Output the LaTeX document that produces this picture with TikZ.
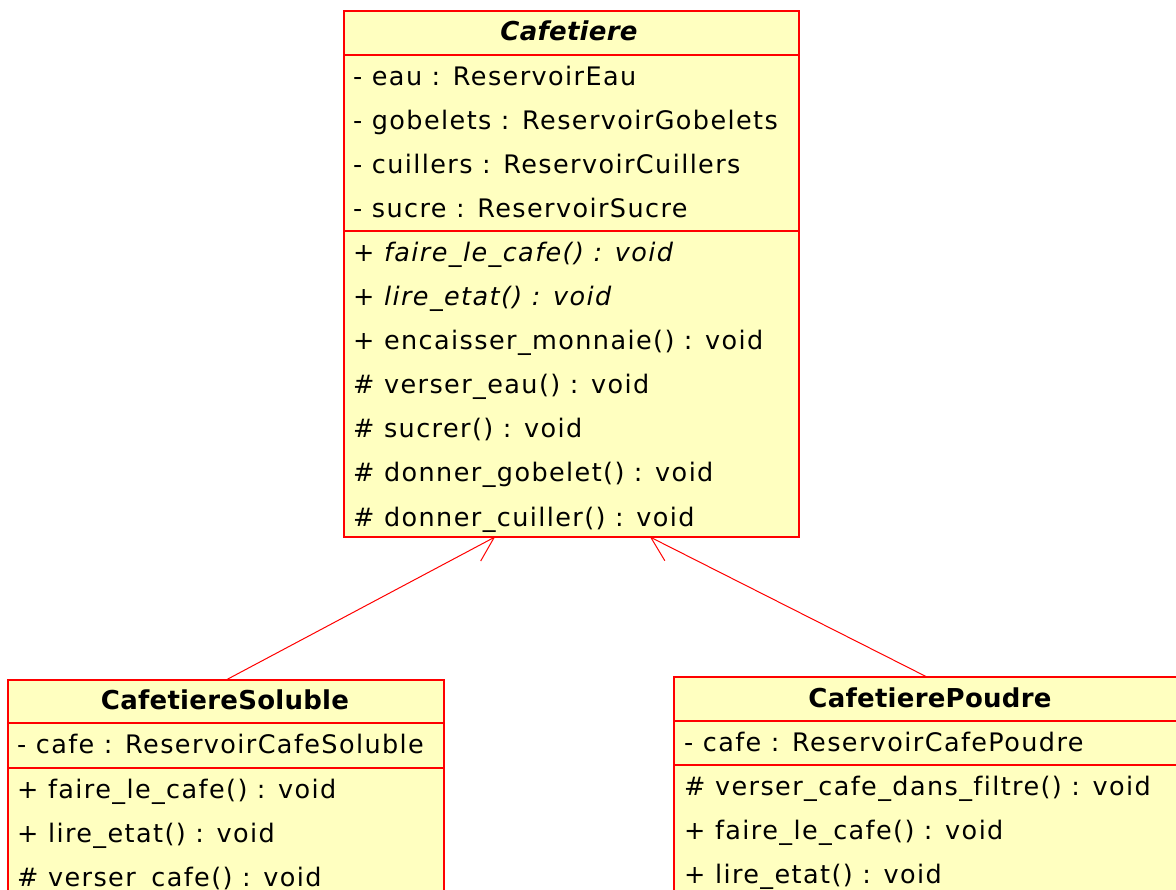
\documentclass[tikz,border=0pt]{standalone}
\usepackage{fontspec}
\setmainfont{DejaVu Sans}[LetterSpace=5.5, Ligatures=NoCommon]
\newfontfamily\headfont{DejaVu Sans}[LetterSpace=1, Ligatures=NoCommon]
\usetikzlibrary{arrows.meta,backgrounds}
\definecolor{umlfill}{HTML}{FFFFC0}
\definecolor{umlred}{HTML}{FF0000}
\begin{document}
\begin{tikzpicture}[x=1pt,y=-1pt,
  classbox/.style={draw=umlred, fill=umlfill, line width=1.5pt, inner sep=0pt, outer sep=0pt},
  sep/.style={draw=umlred, line width=1.5pt},
  row/.style={anchor=base west, inner sep=0pt, font=\fontsize{25.5}{30}\selectfont},
  irow/.style={row, font=\fontsize{25.5}{30}\selectfont\itshape},
  head/.style={anchor=base, inner sep=0pt, font=\headfont\fontsize{26}{30}\selectfont\bfseries},
  inherit/.style={draw=umlred, line width=1pt, -{Straight Barb[length=23pt,width=29pt]}}]
\useasboundingbox (0,0) rectangle (1176,890);
\begin{scope}
\clip (0,0) rectangle (1176,890);
% Cafetiere
\node[classbox, minimum width=455pt, minimum height=526pt] (caf) at (571.5,274) {};
\draw[sep] (344,55) -- (799,55);
\draw[sep] (344,231) -- (799,231);
\node[head, font=\headfont\fontsize{26}{30}\selectfont\bfseries\itshape] (cafname) at (569,41) {Cafetiere};
\node[row] (ca1) at (353,86) {- eau : ReservoirEau};
\node[row] (ca2) at (353,130) {- gobelets : ReservoirGobelets};
\node[row] (ca3) at (353,174) {- cuillers : ReservoirCuillers};
\node[row] (ca4) at (353,218) {- sucre : ReservoirSucre};
\node[irow] (cm1) at (353,262) {+ faire\_le\_cafe() : void};
\node[irow] (cm2) at (353,306) {+ lire\_etat() : void};
\node[row] (cm3) at (353,350) {+ encaisser\_monnaie() : void};
\node[row] (cm4) at (353,394) {\# verser\_eau() : void};
\node[row] (cm5) at (353,438) {\# sucrer() : void};
\node[row] (cm6) at (353,482) {\# donner\_gobelet() : void};
\node[row] (cm7) at (353,526) {\# donner\_cuiller() : void};
% CafetiereSoluble
\node[classbox, minimum width=436pt, minimum height=250pt] (sol) at (226,805) {};
\draw[sep] (8,723) -- (444,723);
\draw[sep] (8,768) -- (444,768);
\node[head] (solname) at (225,709) {CafetiereSoluble};
\node[row] (sa1) at (17,753) {- cafe : ReservoirCafeSoluble};
\node[row] (sm1) at (17,798) {+ faire\_le\_cafe() : void};
\node[row] (sm2) at (17,842) {+ lire\_etat() : void};
\node[row] (sm3) at (17,886) {\# verser\_cafe() : void};
% CafetierePoudre
\node[classbox, minimum width=506pt, minimum height=253pt] (pou) at (927,803.5) {};
\draw[sep] (674,721) -- (1180,721);
\draw[sep] (674,765) -- (1180,765);
\node[head] (pouname) at (930,707) {CafetierePoudre};
\node[row] (pa1) at (684,751) {- cafe : ReservoirCafePoudre};
\node[row] (pm1) at (684,795) {\# verser\_cafe\_dans\_filtre() : void};
\node[row] (pm2) at (684,839) {+ faire\_le\_cafe() : void};
\node[row] (pm3) at (684,883) {+ lire\_etat() : void};
\end{scope}
% generalisations (behind the class boxes)
\begin{scope}[on background layer]
\coordinate (tipL) at (495,537);
\coordinate (tipR) at (650,537);
\draw[inherit] (sol.north) -- (tipL);
\draw[inherit] (pou.north) -- (tipR);
\end{scope}
\end{tikzpicture}
\end{document}
